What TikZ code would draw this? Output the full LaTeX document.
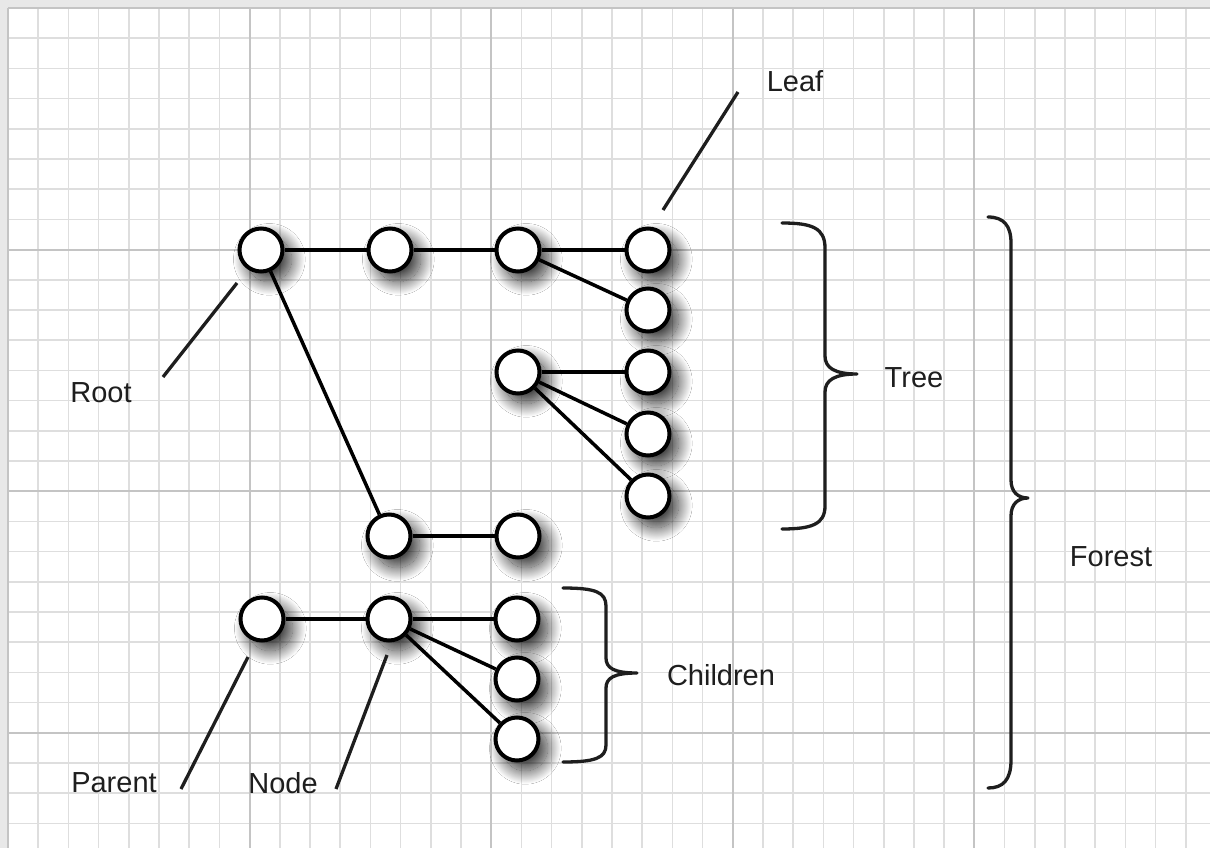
\documentclass[tikz,border=0pt]{standalone}
\usepackage{fontspec}
\setmainfont{Liberation Sans}
\usetikzlibrary{shadows.blur}
\definecolor{minorgrid}{HTML}{DEDEDE}
\definecolor{majorgrid}{HTML}{C4C4C4}
\definecolor{framegray}{HTML}{E8E8E8}
\definecolor{inkgray}{HTML}{1E1E1E}
\begin{document}
\begin{tikzpicture}[x=1pt,y=-1pt,
  tnode/.style={circle,draw=black,line width=4pt,fill=white,minimum size=43pt,inner sep=0pt,
    blur shadow={shadow xshift=8pt,shadow yshift=-9pt,shadow blur radius=13pt,shadow blur steps=40,shadow opacity=80,shadow scale=1.04}},
  conn/.style={line width=3.5pt,black},
  pointer/.style={line width=3.3pt,inkgray},
  bracestyle/.style={line width=3.3pt,inkgray,line cap=round,line join=round},
  lbl/.style={font=\fontsize{29}{34}\selectfont,text=inkgray,inner sep=0pt},
  gridminor/.style={minorgrid,line width=1.5pt},
  gridmajor/.style={majorgrid,line width=2pt}]
\useasboundingbox (0,0) rectangle (1210,848);
\fill[white] (0,0) rectangle (1210,848);
\fill[framegray] (0,0) rectangle (8,848);
\fill[framegray] (0,0) rectangle (1210,7);
% grid
\foreach \k in {1,...,39} { \draw[gridminor] ({8+30.2*\k},8) -- ({8+30.2*\k},848); }
\foreach \k in {1,...,27} { \draw[gridminor] (8,{8+30.2*\k}) -- (1210,{8+30.2*\k}); }
\foreach \k in {0,8,16,24,32} { \draw[gridmajor] ({8+30.2*\k},8) -- ({8+30.2*\k},848); }
\foreach \k in {0,8,16,24} { \draw[gridmajor] (8,{8+30.2*\k}) -- (1210,{8+30.2*\k}); }
% nodes
\node[tnode] (n1) at (261,250) {};
\node[tnode] (n2) at (390,250) {};
\node[tnode] (n3) at (518,250) {};
\node[tnode] (n4) at (648,250) {};
\node[tnode] (n5) at (648,310) {};
\node[tnode] (n6) at (518,372) {};
\node[tnode] (n7) at (648,372) {};
\node[tnode] (n8) at (648,434) {};
\node[tnode] (n9) at (648,496) {};
\node[tnode] (n10) at (389,536) {};
\node[tnode] (n11) at (518,536) {};
\node[tnode] (p) at (262,619) {};
\node[tnode] (c) at (389,619) {};
\node[tnode] (k1) at (517,619) {};
\node[tnode] (k2) at (517,679) {};
\node[tnode] (k3) at (517,739) {};
% connectors
\draw[conn] (n1) -- (n2);
\draw[conn] (n2) -- (n3);
\draw[conn] (n3) -- (n4);
\draw[conn] (n3) -- (n5);
\draw[conn] (n1) -- (n10);
\draw[conn] (n10) -- (n11);
\draw[conn] (n6) -- (n7);
\draw[conn] (n6) -- (n8);
\draw[conn] (n6) -- (n9);
\draw[conn] (p) -- (c);
\draw[conn] (c) -- (k1);
\draw[conn] (c) -- (k2);
\draw[conn] (c) -- (k3);
% labels
\node[lbl] (leaf) at (795,81) {Leaf};
\node[lbl] (root) at (101,393) {Root};
\node[lbl] (parent) at (114,783) {Parent};
\node[lbl] (nodelbl) at (283,783) {Node};
\node[lbl] (tree) at (914,378) {Tree};
\node[lbl] (children) at (721,675) {Children};
\node[lbl] (forest) at (1111,557) {Forest};
% pointer lines
\coordinate (leafA) at (738,92);
\coordinate (leafB) at (663,210);
\coordinate (rootA) at (163,377);
\coordinate (rootB) at (237,283);
\coordinate (parA) at (181,789);
\coordinate (parB) at (248,657);
\coordinate (nodA) at (336,789);
\coordinate (nodB) at (387,655);
\draw[pointer] (leafA) -- (leafB);
\draw[pointer] (rootA) -- (rootB);
\draw[pointer] (parA) -- (parB);
\draw[pointer] (nodA) -- (nodB);
% braces
\coordinate (treeTop) at (782,223);
\coordinate (treeTip) at (857,374);
\coordinate (treeBot) at (782,529);
\draw[bracestyle] (treeTop) .. controls (812,223) and (825,228) .. (825,248)
  -- (825,356) .. controls (825,368) and (835,374) .. (treeTip)
  .. controls (835,374) and (825,380) .. (825,392)
  -- (825,506) .. controls (825,524) and (812,529) .. (treeBot);
\coordinate (chTop) at (563,588);
\coordinate (chTip) at (637,673);
\coordinate (chBot) at (563,762);
\draw[bracestyle] (chTop) .. controls (595,588) and (606,592) .. (606,606)
  -- (606,658) .. controls (606,668) and (614,673) .. (chTip)
  .. controls (614,673) and (606,678) .. (606,688)
  -- (606,745) .. controls (606,758) and (595,762) .. (chBot);
\coordinate (foTop) at (988,217);
\coordinate (foTip) at (1028,498);
\coordinate (foBot) at (988,788);
\draw[bracestyle] (foTop) .. controls (1004,217) and (1011,226) .. (1011,243)
  -- (1011,480) .. controls (1011,492) and (1018,498) .. (foTip)
  .. controls (1018,498) and (1011,504) .. (1011,516)
  -- (1011,760) .. controls (1011,780) and (1003,788) .. (foBot);
\end{tikzpicture}
\end{document}
